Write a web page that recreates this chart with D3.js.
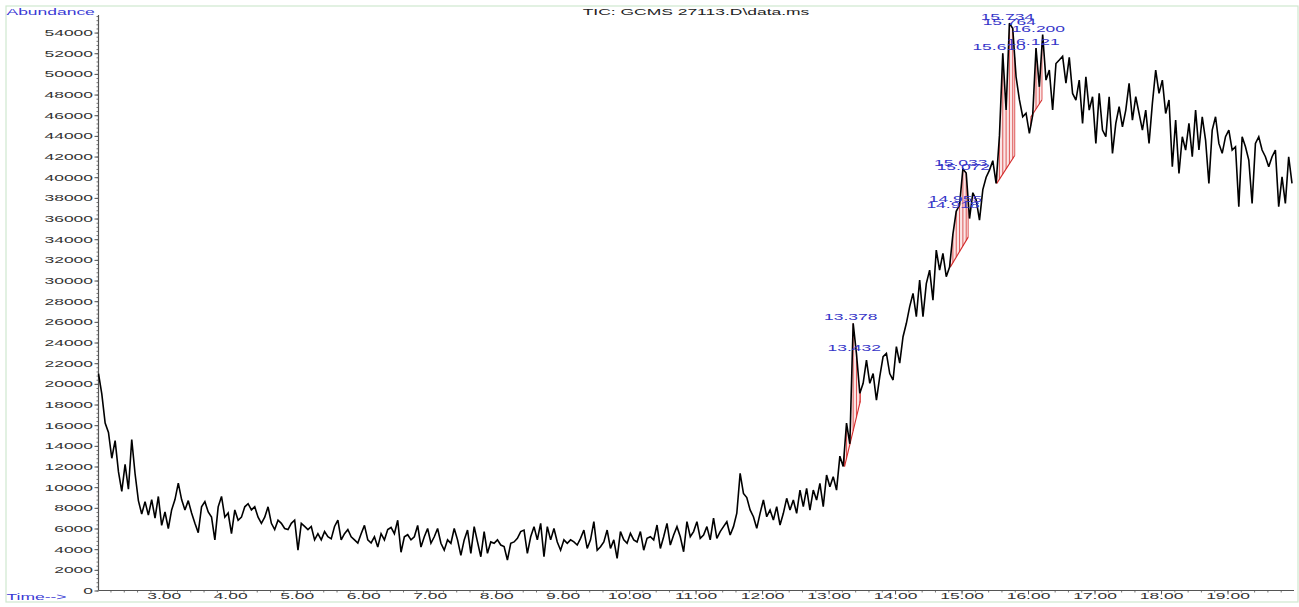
<!DOCTYPE html>
<html>
<head>
<meta charset="utf-8">
<script src="https://cdn.jsdelivr.net/npm/d3@7"></script>
<style>
  html, body { margin: 0; padding: 0; background: #fff; }
  svg { display: block; }
  text { font-family: "Liberation Sans", Arial, sans-serif; }
</style>
</head>
<body>
<svg id="chart" width="1299" height="607"></svg>
<script>
// Total ion chromatogram, sampled every 0.05 min from 2.02 min
const startTime = 2.02;
const timeStep = 0.05;
const abundance = [
  21000, 19000, 16200, 15300, 12800, 14500, 11500, 9600, 12200, 9800,
  14600, 11300, 8700, 7400, 8600, 7300, 8800, 7000, 9100, 6300,
  7600, 6000, 7800, 8800, 10400, 8800, 7800, 8700, 7500, 6500,
  5600, 8100, 8600, 7600, 7100, 4900, 8100, 9100, 7100, 7500,
  5500, 7800, 6800, 7100, 8100, 8400, 7800, 8100, 7100, 6500,
  7100, 8100, 6500, 5900, 6800, 6500, 6000, 5900, 6500, 6800,
  3900, 6500, 6200, 5900, 6200, 4900, 5500, 4900, 5700, 5200,
  5000, 6200, 6800, 4900, 5500, 5900, 5200, 4900, 4600, 5500,
  6300, 4900, 4600, 5200, 4200, 5500, 4900, 5900, 6100, 5500,
  6800, 3700, 5200, 5400, 4900, 5200, 6300, 4200, 5200, 6000,
  4570, 5200, 6000, 4570, 3900, 4900, 4570, 6000, 4900, 3400,
  4900, 5850, 3600, 6180, 4700, 3270, 5700, 3600, 4700, 4570,
  4900, 4400, 4250, 2950, 4570, 4700, 5050, 5700, 5850, 3600,
  5200, 6180, 4900, 6500, 3270, 6180, 4900, 6000, 4700, 3900,
  4900, 4570, 4900, 4700, 4400, 5050, 5850, 4070, 4900, 6660,
  3900, 4240, 4700, 5850, 4070, 4900, 3100, 5700, 4900, 4570,
  5530, 4900, 4700, 5700, 3900, 5050, 5200, 4900, 6340, 4070,
  5200, 6500, 4400, 5370, 6180, 5200, 3750, 6660, 5200, 5700,
  6660, 5050, 5370, 6180, 4900, 7000, 5050, 5700, 6180, 6660,
  5370, 6180, 7480, 11340, 9400, 9000, 7800, 7140, 6020, 7470,
  8760, 7140, 7790, 6820, 8120, 6340, 7470, 8920, 7790, 8760,
  7470, 9720, 8120, 9890, 7790, 9720, 8760, 10370, 8120, 11180,
  10050, 11020, 9720, 13000, 12000, 16200, 14200, 25860, 22900, 19080,
  20050, 22300, 20050, 21000, 18430, 20700, 22630, 22950, 21000, 20370,
  23600, 22000, 24560, 25860, 27470, 28760, 26500, 30050, 26500, 29700,
  31010, 28100, 32950, 31010, 32630, 30370, 31300, 34500, 36700, 37300,
  40800, 40400, 36000, 38500, 37800, 35850, 38800, 40000, 40690, 41600,
  39400, 44000, 52000, 46500, 54900, 54400, 49720, 47500, 45850, 46200,
  44250, 46000, 52500, 48750, 53800, 49400, 50370, 46500, 51000, 51340,
  51700, 49100, 51600, 48110, 47470, 49400, 45210, 49720, 46500, 47790,
  43270, 48110, 44560, 43920, 47790, 42310, 45210, 46820, 44880, 46500,
  49080, 45530, 47790, 46170, 44560, 46500, 43270, 47150, 50370, 48110,
  49400, 46170, 47470, 41010, 45530, 40370, 43920, 42630, 45210, 41980,
  46500, 42630, 45850, 43600, 39400, 44560, 45850, 43270, 42310, 43920,
  44560, 42630, 42950, 37150, 43920, 42950, 41660, 37470, 43270, 43920,
  42630, 41980, 41010, 41980, 42630, 37150, 40040, 37470, 41980, 39400
];

// Integrated peaks: retention times reported above the trace
const peakTimes = [13.378, 13.432, 14.918, 14.955, 15.033, 15.072, 15.610, 15.734, 15.764, 16.121, 16.200];

// Integration windows (start/end time and baseline abundance)
const intStartTime = [13.24, 14.83, 15.53, 16.04];
const intStartAbund = [12000, 31300, 39400, 45800];
const intEndTime = [13.48, 15.10, 15.80, 16.21];
const intEndAbund = [18400, 34200, 42100, 47500];

// Axis ticks
const yTickValues = [0, 2000, 4000, 6000, 8000, 10000, 12000, 14000, 16000, 18000, 20000,
  22000, 24000, 26000, 28000, 30000, 32000, 34000, 36000, 38000, 40000, 42000, 44000,
  46000, 48000, 50000, 52000, 54000];
const xTickValues = [3, 4, 5, 6, 7, 8, 9, 10, 11, 12, 13, 14, 15, 16, 17, 18, 19];

const titleText = "TIC: GCMS 27113.D\\data.ms";
const yLabelText = "Abundance";
const xLabelText = "Time-->";

// ---- layout ----
const SX = 1.84;            // wide glyphs of the instrument report font
const FS = 9.5;
const svg = d3.select("#chart");
const x = d3.scaleLinear().domain([2.02, 20.0]).range([98.5, 1294]);
const y = d3.scaleLinear().domain([0, 55700]).range([590.5, 15]);
const tAt = i => startTime + i * timeStep;

// outer frame
svg.append("rect").attr("x", 6).attr("y", 6).attr("width", 1292).attr("height", 596)
  .attr("fill", "none").attr("stroke", "#cfe8cf").attr("stroke-width", 1.2);

function wideText(g, px, py, str, anchor, color) {
  return g.append("g").attr("transform", `translate(${px},${py}) scale(${SX},1)`)
    .append("text").attr("x", 0).attr("y", 0)
    .attr("text-anchor", anchor).attr("font-size", FS).attr("fill", color).text(str);
}

// titles
wideText(svg, 696, 15, titleText, "middle", "#222");
wideText(svg, 6.5, 15, yLabelText, "start", "#3a3ad4");
wideText(svg, 6.5, 599.5, xLabelText, "start", "#3a3ad4");

// y axis
const yMinor = d3.range(0, 55601, 400);
svg.append("g").attr("transform", "translate(98.5,0)")
  .call(d3.axisLeft(y).tickValues(yMinor).tickSize(2).tickFormat(""))
  .call(g => g.select(".domain").remove())
  .selectAll("line").attr("stroke", "#777");
const yAxis = svg.append("g").attr("transform", "translate(98.5,0)")
  .call(d3.axisLeft(y).tickValues(yTickValues).tickSize(4).tickFormat(d3.format("d")));
yAxis.select(".domain").remove();
yAxis.selectAll("line").attr("stroke", "#555");
yAxis.selectAll("text")
  .attr("x", 0).attr("font-size", FS).attr("fill", "#333")
  .attr("font-family", "Liberation Sans, Arial, sans-serif")
  .attr("transform", `translate(-5.5,0) scale(${SX},1)`);
svg.append("line").attr("x1", 98.5).attr("x2", 98.5).attr("y1", 15).attr("y2", 590.5)
  .attr("stroke", "#555").attr("stroke-width", 1.2);

// x axis
const xMinor = d3.range(2.2, 20.0, 0.2);
svg.append("g").attr("transform", "translate(0,590.5)")
  .call(d3.axisBottom(x).tickValues(xMinor).tickSize(2).tickFormat(""))
  .call(g => g.select(".domain").remove())
  .selectAll("line").attr("stroke", "#777");
const xAxis = svg.append("g").attr("transform", "translate(0,590.5)")
  .call(d3.axisBottom(x).tickValues(xTickValues).tickSize(4).tickFormat(d3.format(".2f")));
xAxis.select(".domain").remove();
xAxis.selectAll("line").attr("stroke", "#555");
xAxis.selectAll("text")
  .attr("y", 2).attr("font-size", FS).attr("fill", "#333")
  .attr("font-family", "Liberation Sans, Arial, sans-serif")
  .attr("transform", `scale(${SX},1)`);
svg.append("line").attr("x1", 98.5).attr("x2", 1294).attr("y1", 590.5).attr("y2", 590.5)
  .attr("stroke", "#555").attr("stroke-width", 1.2);

// signal value at any time, interpolated between scans
function signalAt(t) {
  const f = (t - startTime) / timeStep;
  const i0 = Math.max(0, Math.min(abundance.length - 2, Math.floor(f)));
  const r = f - i0;
  return abundance[i0] * (1 - r) + abundance[i0 + 1] * r;
}

// integration hatching
const integ = svg.append("g");
intStartTime.forEach((ts, k) => {
  const te = intEndTime[k];
  const b0 = intStartAbund[k], b1 = intEndAbund[k];
  const base = t => b0 + (b1 - b0) * (t - ts) / (te - ts);
  const pts = [ts];
  abundance.forEach((v, i) => { const t = tAt(i); if (t > ts && t < te) pts.push(t); });
  pts.push(te);
  // light fill under the peak
  const poly = pts.map(t => [x(t), y(signalAt(t))])
    .concat(pts.slice().reverse().map(t => [x(t), y(base(t))]));
  integ.append("path").attr("d", "M" + poly.join("L") + "Z")
    .attr("fill", "#e88080").attr("fill-opacity", 0.2).attr("stroke", "none");
  // drop lines at every scan
  integ.selectAll(null).data(pts).join("line")
    .attr("x1", d => x(d)).attr("x2", d => x(d))
    .attr("y1", d => y(base(d))).attr("y2", d => y(signalAt(d)))
    .attr("stroke", "#d42a2a").attr("stroke-width", 0.9).attr("stroke-opacity", 0.85);
  // baseline
  integ.append("line").attr("x1", x(ts)).attr("x2", x(te))
    .attr("y1", y(b0)).attr("y2", y(b1))
    .attr("stroke", "#d42a2a").attr("stroke-width", 1.1);
});

// chromatogram trace
const line = d3.line().x((d, i) => x(tAt(i))).y(d => y(d));
svg.append("path").datum(abundance).attr("d", line)
  .attr("fill", "none").attr("stroke", "#000").attr("stroke-width", 1.6)
  .attr("stroke-linejoin", "miter").attr("stroke-miterlimit", 3);

// retention-time labels
const lab = svg.append("g");
peakTimes.forEach(rt => {
  const i = Math.round((rt - startTime) / timeStep);
  wideText(lab, x(rt) - 3, y(abundance[i]) - 3, rt.toFixed(3), "middle", "#3535c8");
});
</script>
</body>
</html>
